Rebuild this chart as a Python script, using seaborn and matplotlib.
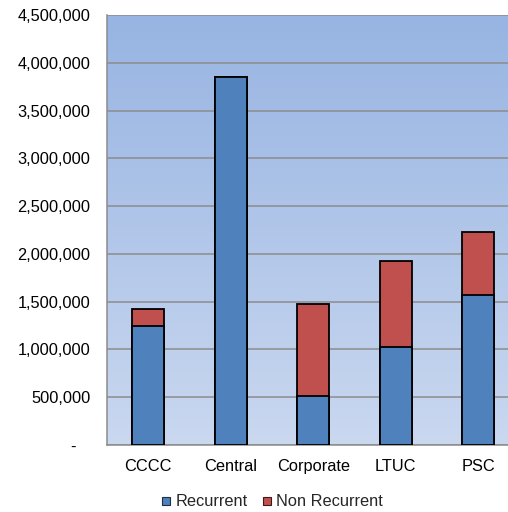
import numpy as np
import pandas as pd
import matplotlib
matplotlib.use("Agg")
import matplotlib.pyplot as plt
from matplotlib.lines import Line2D
from matplotlib.ticker import FuncFormatter, FixedLocator
import seaborn as sns

# Annual amounts by business unit
categories = ["CCCC", "Central", "Corporate", "LTUC", "PSC"]
recurrent = [1245000, 3854000, 513000, 1022000, 1570000]
non_recurrent = [178000, 0, 963000, 903000, 660000]
series_names = ["Recurrent", "Non Recurrent"]
y_ticks = [0, 500000, 1000000, 1500000, 2000000, 2500000, 3000000, 3500000, 4000000, 4500000]

blue = "#4F81BD"
red = "#C0504D"

sns.set_theme(style="white")
plt.rcParams["font.family"] = ["Liberation Sans", "DejaVu Sans"]
plt.rcParams["font.size"] = 11.8

df = pd.DataFrame({
    "unit": categories,
    "recurrent": recurrent,
    "non_recurrent": non_recurrent,
})
df["total"] = df["recurrent"] + df["non_recurrent"]

fig = plt.figure(figsize=(5.08, 5.12), dpi=100)
ax = fig.add_axes([107 / 508, 1 - 445 / 512, 412.5 / 508, 430 / 512])

# Vertical gradient plot-area fill
grad = np.linspace(0, 1, 256).reshape(-1, 1)
top_c = np.array([0x97, 0xB4, 0xE2]) / 255
bot_c = np.array([0xCA, 0xD8, 0xF0]) / 255
img = top_c[None, None, :] * (1 - grad[:, :, None]) + bot_c[None, None, :] * grad[:, :, None]
ax.imshow(img, extent=[0, 1, 0, 1], transform=ax.transAxes, aspect="auto", zorder=0)

# Stacked bars: full total in red, recurrent part drawn over it in blue
sns.barplot(data=df, x="unit", y="total", color=red, saturation=1, width=0.39,
            edgecolor="black", linewidth=1.3, ax=ax, zorder=3)
sns.barplot(data=df, x="unit", y="recurrent", color=blue, saturation=1, width=0.39,
            edgecolor="black", linewidth=1.3, ax=ax, zorder=4)

ax.set_xlim(-0.5, len(categories) - 0.5)
ax.set_ylim(0, 4500000)
ax.set_xlabel("")
ax.set_ylabel("")

ax.yaxis.set_major_locator(FixedLocator(y_ticks))
ax.yaxis.set_major_formatter(FuncFormatter(lambda v, p: "-   " if v == 0 else f"{v:,.0f}"))
ax.grid(axis="y", color="#8C8C8C", linewidth=1.1, zorder=1)
ax.set_axisbelow(False)
for line in ax.get_ygridlines():
    line.set_zorder(1)

ax.set_xticks(range(len(categories)))
ax.set_xticklabels(categories)
ax.set_xticks(np.arange(-0.5, len(categories), 1), minor=True)
ax.tick_params(axis="x", which="major", length=0, pad=10, labelsize=11.8, colors="black")
ax.tick_params(axis="x", which="minor", length=5, width=1, color="#8C8C8C", direction="out")
ax.tick_params(axis="y", which="major", length=5, width=1, color="#8C8C8C", direction="out",
               pad=7, labelsize=11.8, labelcolor="black")
ax.tick_params(axis="x", which="major", labelcolor="black")

for side in ["top", "right"]:
    ax.spines[side].set_visible(False)
for side in ["left", "bottom"]:
    ax.spines[side].set_color("#8C8C8C")
    ax.spines[side].set_linewidth(1.1)

handles = [
    Line2D([], [], marker="s", linestyle="none", markersize=6, markerfacecolor=blue,
           markeredgecolor="#1F2F44", markeredgewidth=0.8),
    Line2D([], [], marker="s", linestyle="none", markersize=6, markerfacecolor=red,
           markeredgecolor="#3F1A19", markeredgewidth=0.8),
]
fig.legend(handles, series_names, loc="center", bbox_to_anchor=(272 / 508, 1 - 502 / 512),
           ncol=2, frameon=False, fontsize=11.8, handlelength=0.6, handletextpad=0.25,
           columnspacing=0.9, borderpad=0)

fig.savefig("out.png", dpi=100)
